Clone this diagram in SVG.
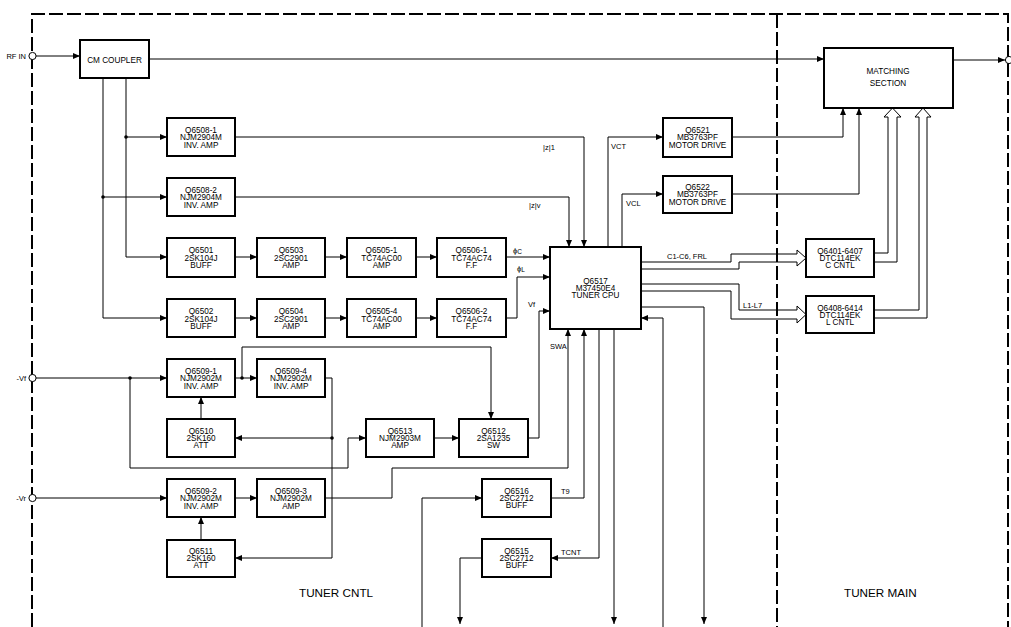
<svg xmlns="http://www.w3.org/2000/svg" width="1011" height="627" viewBox="0 0 1011 627">
<defs>
<marker id="ah" markerUnits="userSpaceOnUse" markerWidth="7" markerHeight="6" refX="7" refY="3" orient="auto"><path d="M0,0 L7,3 L0,6 z" fill="#000"/></marker>
</defs>
<style>
.box{fill:#fff;stroke:#000;stroke-width:2}
.t{font-family:"Liberation Sans",Arial,sans-serif;font-size:8.2px;fill:#000;text-anchor:middle}
.l{font-family:"Liberation Sans","DejaVu Sans",Arial,sans-serif;font-size:7.5px;fill:#000}
.big{font-family:"Liberation Sans",Arial,sans-serif;font-size:11.7px;fill:#000}
.c{fill:none;stroke:#000;stroke-width:1}
.a{marker-end:url(#ah)}
.frame{fill:none;stroke:#000;stroke-width:2;stroke-dasharray:14 4}
.dot{fill:#000}
.hollow{fill:#fff;stroke:#000;stroke-width:1}
</style>
<rect width="1011" height="627" fill="#fff"/>
<g id="frame">
<path class="frame" d="M32,627 V14 H1008 V627"/>
<path class="frame" d="M777,14 V627"/>
</g>
<g id="connectors">
<path class="c a" d="M36,56 H80"/>
<path class="c a" d="M149,59 H824"/>
<path class="c a" d="M953,60 H1005"/>
<path class="c a" d="M126,78 V257 H167"/>
<path class="c a" d="M126,137 H167"/>
<path class="c a" d="M103,78 V318 H167"/>
<path class="c a" d="M103,197 H167"/>
<path class="c a" d="M235,137 H584 V247"/>
<path class="c a" d="M235,197 H569 V247"/>
<path class="c a" d="M235,257 H257"/>
<path class="c a" d="M325,257 H347"/>
<path class="c a" d="M416,257 H437"/>
<path class="c a" d="M506,257 H550"/>
<path class="c a" d="M235,318 H257"/>
<path class="c a" d="M325,318 H347"/>
<path class="c a" d="M416,318 H437"/>
<path class="c a" d="M506,318 H517 V277 H550"/>
<path class="c a" d="M608,247 V137 H663"/>
<path class="c a" d="M622,247 V194 H663"/>
<path class="c a" d="M732,137 H843 V108"/>
<path class="c a" d="M732,194 H859 V108"/>
<path class="c" d="M641,262 H731 V254 H797"/>
<path class="c" d="M641,269 H739 V262 H797"/>
<path class="hollow" d="M797,254 V250 L806,258 L797,266 V262"/>
<path class="c" d="M641,284 H739 V310 H797"/>
<path class="c" d="M641,291 H731 V319 H797"/>
<path class="hollow" d="M797,310 V306 L806,314.5 L797,323 V319"/>
<path class="c a" d="M641,307 H704 V624"/>
<path class="c a" d="M663,627 V318 H641"/>
<path class="c" d="M874,253 H888 V117"/>
<path class="c" d="M874,262 H897 V117"/>
<path class="hollow" d="M888,117 H884 L892.5,108 L901,117 H897"/>
<path class="c" d="M874,310 H919 V117"/>
<path class="c" d="M874,318 H927 V117"/>
<path class="hollow" d="M919,117 H915 L923,108 L931,117 H927"/>
<path class="c a" d="M36,378 H167"/>
<path class="c a" d="M130,378 V468 H348 V438 H366"/>
<path class="c a" d="M235,378 H257"/>
<path class="c a" d="M242,378 V347 H491 V419"/>
<path class="c a" d="M325,378 H332 V558 H235"/>
<path class="c a" d="M332,438 H235"/>
<path class="c a" d="M201,419 V397"/>
<path class="c a" d="M434,438 H459"/>
<path class="c a" d="M528,438 H539 V311 H550"/>
<path class="c a" d="M36,498 H167"/>
<path class="c a" d="M235,498 H257"/>
<path class="c a" d="M325,498 H392 V468 H568 V329"/>
<path class="c a" d="M201,540 V517"/>
<path class="c a" d="M422,627 V498 H482"/>
<path class="c a" d="M551,498 H584 V329"/>
<path class="c a" d="M599,329 V558 H551"/>
<path class="c a" d="M482,558 H460 V624"/>
<path class="c a" d="M614,329 V624"/>
<circle class="dot" cx="126" cy="137" r="1.8"/>
<circle class="dot" cx="103" cy="197" r="1.8"/>
<circle class="dot" cx="130" cy="378" r="1.8"/>
<circle class="dot" cx="242" cy="378" r="1.8"/>
<circle class="dot" cx="332" cy="438" r="1.8"/>
</g>
<g id="terminals">
<circle cx="32.5" cy="56" r="3.6" fill="#fff" stroke="#000" stroke-width="1"/>
<circle cx="32.5" cy="378" r="3.6" fill="#fff" stroke="#000" stroke-width="1"/>
<circle cx="32.5" cy="498" r="3.6" fill="#fff" stroke="#000" stroke-width="1"/>
<circle cx="1009" cy="60" r="3.6" fill="#fff" stroke="#000" stroke-width="1"/>
<text class="l" x="26" y="59" text-anchor="end">RF IN</text>
<text class="l" x="26" y="381" text-anchor="end">-Vf</text>
<text class="l" x="26" y="501" text-anchor="end">-Vr</text>
</g>
<g id="cm_coupler"><rect class="box" x="80" y="40" width="69" height="38"/><text class="t" x="114.5" y="63">CM COUPLER</text></g>
<g id="matching"><rect class="box" x="824" y="48" width="129" height="60"/><text class="t" x="888" y="74">MATCHING</text><text class="t" x="888" y="86">SECTION</text></g>
<g id="q6508-1"><rect class="box" x="167" y="118" width="68" height="38"/><text class="t" x="201" y="133">Q6508-1</text><text class="t" x="201" y="140">NJM2904M</text><text class="t" x="201" y="147.5">INV. AMP</text></g>
<g id="q6508-2"><rect class="box" x="167" y="178" width="68" height="38"/><text class="t" x="201" y="193">Q6508-2</text><text class="t" x="201" y="200">NJM2904M</text><text class="t" x="201" y="207.5">INV. AMP</text></g>
<g id="q6501"><rect class="box" x="167" y="238" width="68" height="39"/><text class="t" x="201" y="253">Q6501</text><text class="t" x="201" y="260.5">2SK104J</text><text class="t" x="201" y="268">BUFF</text></g>
<g id="q6503"><rect class="box" x="257" y="238" width="68" height="39"/><text class="t" x="291" y="253">Q6503</text><text class="t" x="291" y="260.5">2SC2901</text><text class="t" x="291" y="268">AMP</text></g>
<g id="q6505-1"><rect class="box" x="347" y="238" width="69" height="39"/><text class="t" x="381.5" y="253">Q6505-1</text><text class="t" x="381.5" y="260.5">TC74AC00</text><text class="t" x="381.5" y="268">AMP</text></g>
<g id="q6506-1"><rect class="box" x="437" y="238" width="69" height="39"/><text class="t" x="471.5" y="253">Q6506-1</text><text class="t" x="471.5" y="260.5">TC74AC74</text><text class="t" x="471.5" y="268">F.F</text></g>
<g id="q6502"><rect class="box" x="167" y="299" width="68" height="38"/><text class="t" x="201" y="314">Q6502</text><text class="t" x="201" y="321.5">2SK104J</text><text class="t" x="201" y="329">BUFF</text></g>
<g id="q6504"><rect class="box" x="257" y="299" width="68" height="38"/><text class="t" x="291" y="314">Q6504</text><text class="t" x="291" y="321.5">2SC2901</text><text class="t" x="291" y="329">AMP</text></g>
<g id="q6505-4"><rect class="box" x="347" y="299" width="69" height="38"/><text class="t" x="381.5" y="314">Q6505-4</text><text class="t" x="381.5" y="321.5">TC74AC00</text><text class="t" x="381.5" y="329">AMP</text></g>
<g id="q6506-2"><rect class="box" x="437" y="299" width="69" height="38"/><text class="t" x="471.5" y="314">Q6506-2</text><text class="t" x="471.5" y="321.5">TC74AC74</text><text class="t" x="471.5" y="329">F.F</text></g>
<g id="q6517"><rect class="box" x="550" y="247" width="91" height="82"/><text class="t" x="595.5" y="284">Q6517</text><text class="t" x="595.5" y="291">M37450E4</text><text class="t" x="595.5" y="298">TUNER CPU</text></g>
<g id="q6521"><rect class="box" x="663" y="118" width="69" height="39"/><text class="t" x="697.5" y="133">Q6521</text><text class="t" x="697.5" y="140">MB3763PF</text><text class="t" x="697.5" y="148">MOTOR DRIVE</text></g>
<g id="q6522"><rect class="box" x="663" y="176" width="69" height="37"/><text class="t" x="697.5" y="190">Q6522</text><text class="t" x="697.5" y="197">MB3763PF</text><text class="t" x="697.5" y="205">MOTOR DRIVE</text></g>
<g id="q6401"><rect class="box" x="806" y="239" width="68" height="38"/><text class="t" x="840" y="254">Q6401-6407</text><text class="t" x="840" y="261">DTC114EK</text><text class="t" x="840" y="268">C CNTL</text></g>
<g id="q6408"><rect class="box" x="806" y="296" width="68" height="37"/><text class="t" x="840" y="311">Q6408-6414</text><text class="t" x="840" y="318">DTC114EK</text><text class="t" x="840" y="325">L CNTL</text></g>
<g id="q6509-1"><rect class="box" x="167" y="359" width="68" height="38"/><text class="t" x="201" y="374">Q6509-1</text><text class="t" x="201" y="381">NJM2902M</text><text class="t" x="201" y="388.5">INV. AMP</text></g>
<g id="q6509-4"><rect class="box" x="257" y="359" width="68" height="38"/><text class="t" x="291" y="374">Q6509-4</text><text class="t" x="291" y="381">NJM2902M</text><text class="t" x="291" y="388.5">INV. AMP</text></g>
<g id="q6510"><rect class="box" x="167" y="419" width="68" height="38"/><text class="t" x="201" y="434">Q6510</text><text class="t" x="201" y="441">2SK160</text><text class="t" x="201" y="448">ATT</text></g>
<g id="q6513"><rect class="box" x="366" y="419" width="68" height="38"/><text class="t" x="400" y="434">Q6513</text><text class="t" x="400" y="441">NJM2903M</text><text class="t" x="400" y="448">AMP</text></g>
<g id="q6512"><rect class="box" x="459" y="419" width="69" height="38"/><text class="t" x="493.5" y="434">Q6512</text><text class="t" x="493.5" y="441">2SA1235</text><text class="t" x="493.5" y="448">SW</text></g>
<g id="q6509-2"><rect class="box" x="167" y="479" width="68" height="38"/><text class="t" x="201" y="494">Q6509-2</text><text class="t" x="201" y="501">NJM2902M</text><text class="t" x="201" y="508.5">INV. AMP</text></g>
<g id="q6509-3"><rect class="box" x="257" y="479" width="68" height="38"/><text class="t" x="291" y="494">Q6509-3</text><text class="t" x="291" y="501">NJM2902M</text><text class="t" x="291" y="508.5">AMP</text></g>
<g id="q6516"><rect class="box" x="482" y="479" width="69" height="38"/><text class="t" x="516.5" y="494">Q6516</text><text class="t" x="516.5" y="501">2SC2712</text><text class="t" x="516.5" y="508">BUFF</text></g>
<g id="q6511"><rect class="box" x="167" y="540" width="68" height="37"/><text class="t" x="201" y="554">Q6511</text><text class="t" x="201" y="561">2SK160</text><text class="t" x="201" y="568">ATT</text></g>
<g id="q6515"><rect class="box" x="482" y="539" width="69" height="38"/><text class="t" x="516.5" y="554">Q6515</text><text class="t" x="516.5" y="561">2SC2712</text><text class="t" x="516.5" y="568">BUFF</text></g>
<g id="labels">
<text class="l" x="543" y="150">|z|1</text>
<text class="l" x="529" y="208">|z|v</text>
<text class="l" x="611" y="149">VCT</text>
<text class="l" x="626" y="206">VCL</text>
<text class="l" x="513" y="253" font-size="9">ϕ<tspan font-size="6.5" dy="1">C</tspan></text>
<text class="l" x="517" y="271" font-size="9">ϕ<tspan font-size="6.5" dy="1">L</tspan></text>
<text class="l" x="528" y="307">Vf</text>
<text class="l" x="550" y="349">SWA</text>
<text class="l" x="667" y="259">C1-C6, FRL</text>
<text class="l" x="743" y="308">L1-L7</text>
<text class="l" x="561" y="494">T9</text>
<text class="l" x="561" y="555">TCNT</text>
<text class="big" x="299" y="597">TUNER CNTL</text>
<text class="big" x="844" y="597">TUNER MAIN</text>
</g>
</svg>
